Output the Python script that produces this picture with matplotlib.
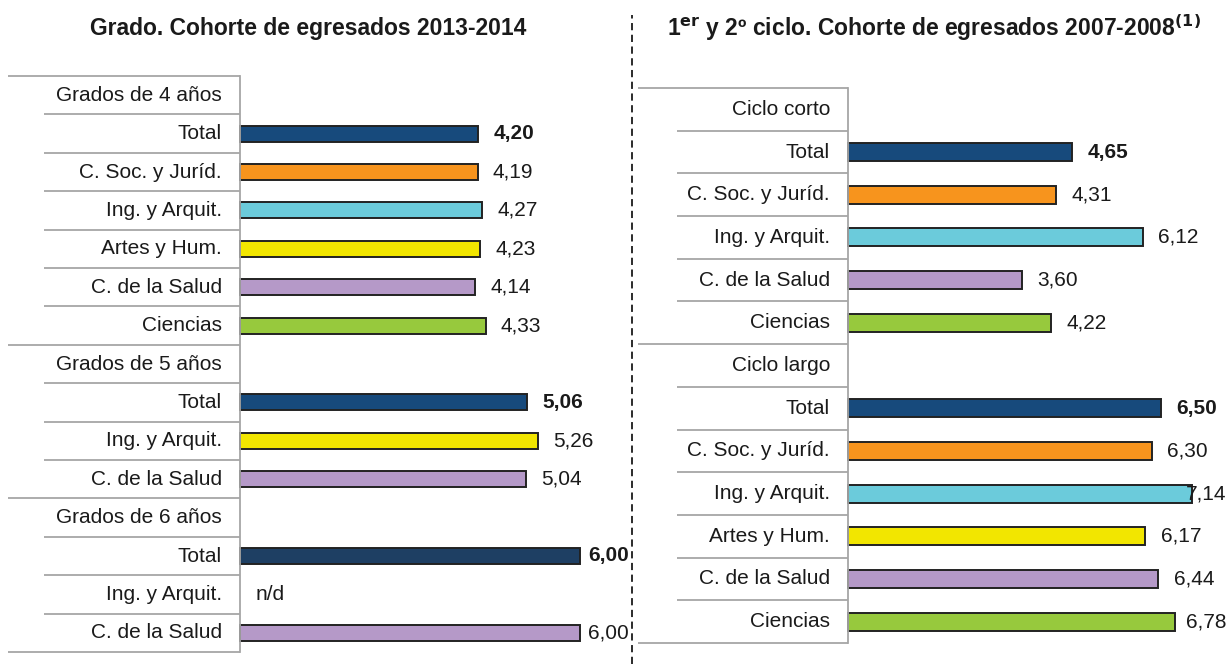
import matplotlib.pyplot as plt
from matplotlib.lines import Line2D

plt.rcParams['font.family'] = ['Liberation Sans', 'DejaVu Sans']

# Left panel: Grado, cohorte 2013-2014 (None = group header row)
left_labels = ["Grados de 4 años", "Total", "C. Soc. y Juríd.", "Ing. y Arquit.", "Artes y Hum.",
               "C. de la Salud", "Ciencias",
               "Grados de 5 años", "Total", "Ing. y Arquit.", "C. de la Salud",
               "Grados de 6 años", "Total", "Ing. y Arquit.", "C. de la Salud"]
left_values = [None, 4.20, 4.19, 4.27, 4.23, 4.14, 4.33,
               None, 5.06, 5.26, 5.04,
               None, 6.00, "n/d", 6.00]
left_colors = [None, "total", "soc", "ing", "artes", "salud", "ciencias",
               None, "total", "artes", "salud",
               None, "total6", None, "salud"]

# Right panel: 1er y 2o ciclo, cohorte 2007-2008
right_labels = ["Ciclo corto", "Total", "C. Soc. y Juríd.", "Ing. y Arquit.", "C. de la Salud", "Ciencias",
                "Ciclo largo", "Total", "C. Soc. y Juríd.", "Ing. y Arquit.", "Artes y Hum.",
                "C. de la Salud", "Ciencias"]
right_values = [None, 4.65, 4.31, 6.12, 3.60, 4.22,
                None, 6.50, 6.30, 7.14, 6.17, 6.44, 6.78]
right_colors = [None, "total", "soc", "ing", "salud", "ciencias",
                None, "total", "soc", "ing", "artes", "salud", "ciencias"]

palette = {"total": "#174a7c", "total6": "#1e3f63", "soc": "#f7941d", "ing": "#6bcbdb",
           "artes": "#f2e600", "salud": "#b599c8", "ciencias": "#97c93d"}

W, H = 1228, 664
FS = 15
fig = plt.figure(figsize=(W / 100, H / 100), dpi=100)


def px_axes(x0, x1, y0, y1):
    # pixel box (from top-left) -> figure axes
    return fig.add_axes([x0 / W, 1 - y1 / H, (x1 - x0) / W, (y1 - y0) / H])


def draw_panel(ax, labels, values, colors, xlim, short_x, long_rows):
    n = len(labels)
    ax.set_xlim(*xlim)
    ax.set_ylim(n, 0)
    ax.axis('off')
    grey = "#a6a6a6"
    for r in range(n + 1):
        x0 = xlim[0] if r in long_rows else short_x
        ax.plot([x0, 0], [r, r], color=grey, lw=1.3, clip_on=False, solid_capstyle='butt')
    ax.plot([0, 0], [0, n], color=grey, lw=1.3, clip_on=False)

    texts = []
    for i, (lab, val, c) in enumerate(zip(labels, values, colors)):
        y = i + 0.5
        ax.annotate(lab, (0, y), xytext=(-13, 0), textcoords='offset points',
                    ha='right', va='center', fontsize=FS, color="#1a1a1a")
        if val is None:
            continue
        if val == "n/d":
            ax.annotate("n/d", (0, y), xytext=(11, 0), textcoords='offset points',
                        ha='left', va='center', fontsize=FS, color="#1a1a1a")
            continue
        ax.barh(y, val, height=0.42, left=0, color=palette[c], edgecolor="#222222", lw=1.4)
        bold = lab == "Total"
        t = ax.annotate(f"{val:.2f}".replace(".", ","), (val, y), xytext=(11, 0),
                        textcoords='offset points', ha='left', va='center', fontsize=FS,
                        fontweight='bold' if bold else 'normal', color="#1a1a1a")
        texts.append(t)
    return texts


ax_l = px_axes(8, 630, 76, 652)
ax_r = px_axes(638, 1228, 88, 643)

lt = draw_panel(ax_l, left_labels, left_values, left_colors,
                ((8 - 240) / 56.7, (630 - 240) / 56.7), (44 - 240) / 56.7, {0, 7, 11, 15})
rt = draw_panel(ax_r, right_labels, right_values, right_colors,
                ((638 - 848) / 48.2, (1228 - 848) / 48.2), (677 - 848) / 48.2, {0, 6, 13})

# keep value labels inside the panel
fig.canvas.draw()
for ax, texts in ((ax_l, lt), (ax_r, rt)):
    edge = ax.get_window_extent().x1
    for t in texts:
        if t.get_window_extent().x1 > edge:
            t.xy = (ax.get_xlim()[1], t.xy[1])
            t.set_position((-1, 0))
            t.set_ha('right')

fig.text(308 / W, 1 - 28 / H, "Grado. Cohorte de egresados 2013-2014", ha='center', va='center',
         fontsize=16.5, fontweight='bold', color="#1a1a1a")
fig.text(934 / W, 1 - 28 / H,
         r"1$^{\mathbf{er}}$ y 2º ciclo. Cohorte de egresados 2007-2008$^{\mathbf{(1)}}$",
         ha='center', va='center', fontsize=16.5, fontweight='bold', color="#1a1a1a")

fig.add_artist(Line2D([632 / W, 632 / W], [0, 1 - 15 / H], transform=fig.transFigure,
                      color="#1a1a1a", lw=1.3, linestyle=(0, (4, 2.5))))

fig.savefig("out.png", dpi=100)
